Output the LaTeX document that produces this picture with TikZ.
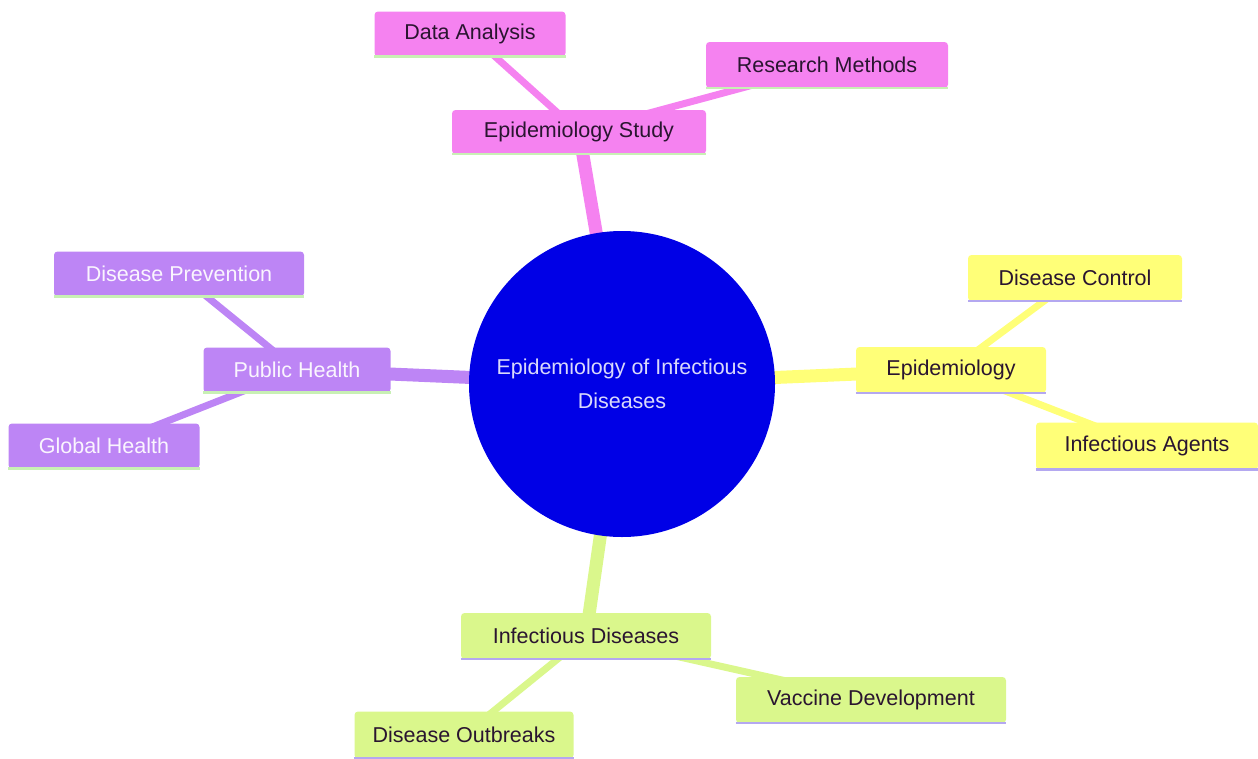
\documentclass[tikz,border=0pt]{standalone}
\usepackage{fontspec}
\setmainfont{Liberation Sans}
\usetikzlibrary{backgrounds}
\definecolor{pk}{HTML}{F582F0}
\definecolor{pu}{HTML}{BD85F5}
\definecolor{ye}{HTML}{FFFF78}
\definecolor{gr}{HTML}{DAF78C}
\definecolor{bl}{HTML}{0000E6}
\definecolor{lgr}{HTML}{C8F0B4}
\definecolor{lav}{HTML}{B4A8F0}
\definecolor{dk}{HTML}{2A1530}
\tikzset{
  box/.style={rectangle, rounded corners=3.5pt, inner sep=0pt, font=\fontsize{21.5}{24}\selectfont},
  pkbox/.style={box, fill=pk, text=dk},
  pubox/.style={box, fill=pu, text=white!92!pu},
  yebox/.style={box, fill=ye, text=dk},
  grbox/.style={box, fill=gr, text=dk},
  mainedge/.style={line width=13pt},
  subedge/.style={line width=7pt},
}
\begin{document}
\begin{tikzpicture}[x=1pt,y=-1pt]
\useasboundingbox (0,0) rectangle (1258,758);
% center
\node[circle, fill=bl, minimum size=306pt, inner sep=0pt, text=white!85!bl, align=center,
  font=\fontsize{21.5}{34}\selectfont] (c) at (622,384) {Epidemiology of Infectious\\Diseases};
% main nodes
\node[pkbox, minimum width=254pt, minimum height=44pt] (es) at (579,132) {Epidemiology Study};
\node[pubox, minimum width=187pt, minimum height=45pt] (ph) at (297,370) {Public Health};
\node[yebox, minimum width=190pt, minimum height=46pt] (ep) at (951,370) {Epidemiology};
\node[grbox, minimum width=250pt, minimum height=46pt] (id) at (586,636) {Infectious Diseases};
% sub nodes
\node[pkbox, minimum width=191pt, minimum height=45pt] (da) at (470,34) {Data Analysis};
\node[pkbox, minimum width=242pt, minimum height=46pt] (rm) at (827,65) {Research Methods};
\node[pubox, minimum width=250pt, minimum height=45pt] (dp) at (179,274) {Disease Prevention};
\node[pubox, minimum width=191pt, minimum height=45pt] (gh) at (104,446) {Global Health};
\node[yebox, minimum width=214pt, minimum height=46pt] (dc) at (1075,278) {Disease Control};
\node[yebox, minimum width=222pt, minimum height=47pt] (ia) at (1147,446) {Infectious Agents};
\node[grbox, minimum width=270pt, minimum height=46pt] (vd) at (871,700) {Vaccine Development};
\node[grbox, minimum width=219pt, minimum height=47pt] (do) at (464,735) {Disease Outbreaks};
% bottom lines
\begin{scope}[line width=2.5pt]
\foreach \n in {es,da,rm,ph,dp,gh}{\draw[lgr] (\n.south west) -- (\n.south east);}
\foreach \n in {ep,dc,ia,id,vd,do}{\draw[lav] (\n.south west) -- (\n.south east);}
\end{scope}
% edges
\begin{scope}[on background layer]
\draw[mainedge, pk] (c.center) -- (es.center);
\draw[mainedge, pu] (c.center) -- (ph.center);
\draw[mainedge, ye] (c.center) -- (ep.center);
\draw[mainedge, gr] (c.center) -- (id.center);
\draw[subedge, pk] (es.center) -- (da.center);
\draw[subedge, pk] (es.center) -- (rm.center);
\draw[subedge, pu] (ph.center) -- (dp.center);
\draw[subedge, pu] (ph.center) -- (gh.center);
\draw[subedge, ye] (ep.center) -- (dc.center);
\draw[subedge, ye] (ep.center) -- (ia.center);
\draw[subedge, gr] (id.center) -- (vd.center);
\draw[subedge, gr] (id.center) -- (do.center);
\end{scope}
\end{tikzpicture}
\end{document}
